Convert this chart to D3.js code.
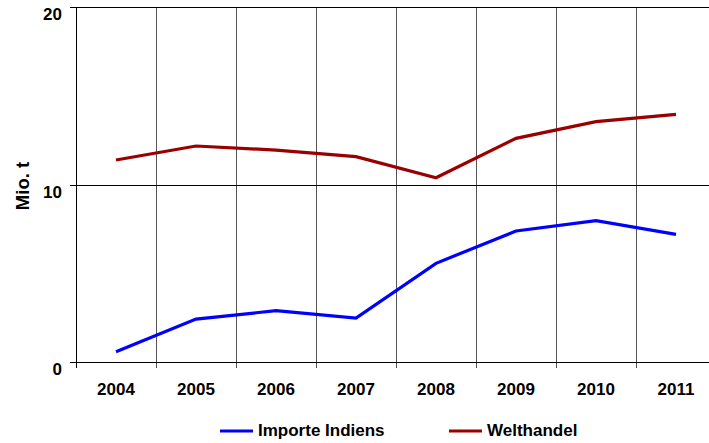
<!DOCTYPE html>
<html><head><meta charset="utf-8">
<script src="https://cdn.jsdelivr.net/npm/d3@7"></script>
<style>body{margin:0;background:#fff;overflow:hidden}svg{display:block}text{font-family:"Liberation Sans",Arial,sans-serif;font-weight:bold;fill:#000}</style>
</head><body>
<script>
const years = ["2004","2005","2006","2007","2008","2009","2010","2011"];
const importeIndiens = [0.58, 2.42, 2.89, 2.48, 5.56, 7.38, 7.96, 7.19];
const welthandel = [11.38, 12.17, 11.94, 11.57, 10.38, 12.6, 13.54, 13.95];
const yTicks = [0, 10, 20];
const seriesNames = ["Importe Indiens", "Welthandel"];
const seriesColors = ["#0000ff", "#990000"];

const W = 709, H = 443;
const svg = d3.select("body").append("svg").attr("width", W).attr("height", H);
const pL = 76, pR = 716, pT = 7, pB = 362;
const x = d3.scaleBand().domain(years).range([pL, pR]);
const y = d3.scaleLinear().domain([0, 20]).range([pB, pT]);

// vertical gridlines at band boundaries
const bounds = years.map(d => x(d)).concat([pR]);
svg.append("g").selectAll("line").data(bounds.slice(1)).join("line")
  .attr("x1", d => d + 0.5).attr("x2", d => d + 0.5).attr("y1", pT).attr("y2", pB + 6)
  .attr("stroke", "#555").attr("stroke-width", 1);

// horizontal gridlines
svg.append("g").selectAll("line").data(yTicks).join("line")
  .attr("x1", pL - 6).attr("x2", W).attr("y1", d => Math.round(y(d)) + 0.5).attr("y2", d => Math.round(y(d)) + 0.5)
  .attr("stroke", "#000").attr("stroke-width", 1);

// y axis line
svg.append("line").attr("x1", pL + 0.5).attr("x2", pL + 0.5).attr("y1", pT).attr("y2", pB + 6)
  .attr("stroke", "#000").attr("stroke-width", 1);

// y tick labels
svg.append("g").selectAll("text").data(yTicks).join("text")
  .attr("x", 62).attr("y", d => y(d) + 13).attr("text-anchor", "end")
  .attr("font-size", 17).text(d => d);

// x tick labels
svg.append("g").selectAll("text").data(years).join("text")
  .attr("x", d => x(d) + x.bandwidth() / 2).attr("y", 395).attr("text-anchor", "middle")
  .attr("font-size", 17).text(d => d);

// y axis title
svg.append("text").attr("transform", "translate(28.5,186) rotate(-90)").attr("text-anchor", "middle")
  .attr("font-size", 18.5).text("Mio. t");

const line = d3.line().x((d, i) => x(years[i]) + x.bandwidth() / 2).y(d => y(d));
[importeIndiens, welthandel].forEach((s, i) => {
  svg.append("path").datum(s).attr("d", line).attr("fill", "none")
    .attr("stroke", seriesColors[i]).attr("stroke-width", 3.2).attr("stroke-linejoin", "miter");
});

// legend
const legendX = [220, 449];
seriesNames.forEach((n, i) => {
  svg.append("line").attr("x1", legendX[i]).attr("x2", legendX[i] + 33).attr("y1", 431).attr("y2", 431)
    .attr("stroke", seriesColors[i]).attr("stroke-width", 3.2);
  svg.append("text").attr("x", legendX[i] + 38).attr("y", 436).attr("font-size", 17).text(n);
});
</script>
</body></html>
